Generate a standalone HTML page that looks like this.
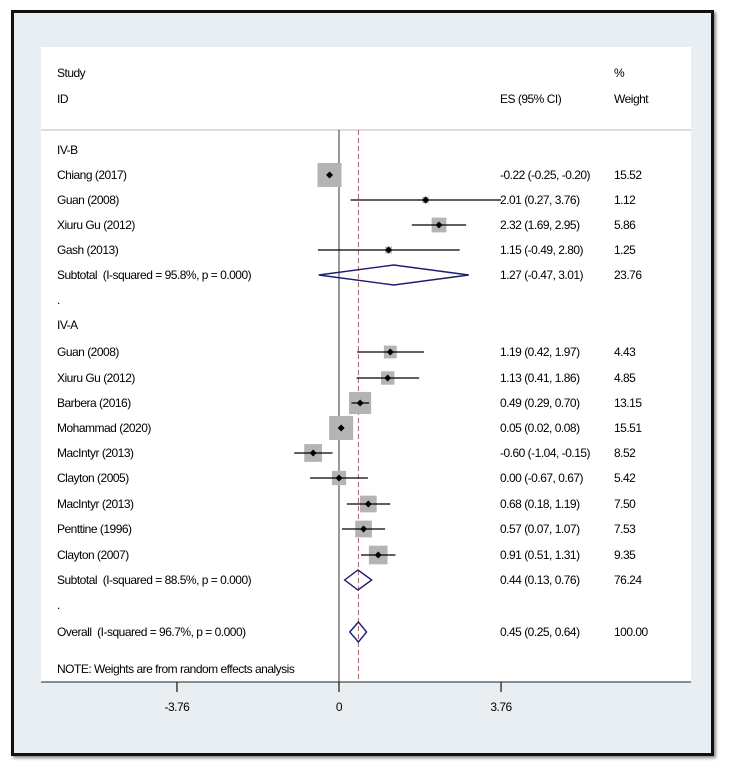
<!DOCTYPE html>
<html><head><meta charset="utf-8">
<style>
body{margin:0;width:730px;height:772px;background:#fff;overflow:hidden;font-family:"Liberation Sans",sans-serif}
#frame{position:absolute;left:11px;top:10px;width:697px;height:740px;border:3px solid #111;background:#e8eef2;box-shadow:2px 2px 3px #888}
svg{position:absolute;left:0;top:0}
text{font-family:"Liberation Sans",sans-serif;font-size:12px;fill:#000;letter-spacing:-0.5px;white-space:pre}
</style></head><body>
<div id="frame"></div>
<svg id="chart" width="730" height="772"></svg>
<script>
const labels=["Chiang (2017)","Guan (2008)","Xiuru Gu (2012)","Gash (2013)","Subtotal  (I-squared = 95.8%, p = 0.000)",
"Guan (2008)","Xiuru Gu (2012)","Barbera (2016)","Mohammad (2020)","MacIntyr (2013)","Clayton (2005)","MacIntyr (2013)","Penttine (1996)","Clayton (2007)","Subtotal  (I-squared = 88.5%, p = 0.000)","Overall  (I-squared = 96.7%, p = 0.000)"];
const es=[-0.22,2.01,2.32,1.15,1.27,1.19,1.13,0.49,0.05,-0.60,0.00,0.68,0.57,0.91,0.44,0.45];
const lo=[-0.25,0.27,1.69,-0.49,-0.47,0.42,0.41,0.29,0.02,-1.04,-0.67,0.18,0.07,0.51,0.13,0.25];
const hi=[-0.20,3.76,2.95,2.80,3.01,1.97,1.86,0.70,0.08,-0.15,0.67,1.19,1.07,1.31,0.76,0.64];
const weights=[15.52,1.12,5.86,1.25,23.76,4.43,4.85,13.15,15.51,8.52,5.42,7.50,7.53,9.35,76.24,100.00];
const kinds=["s","s","s","s","d","s","s","s","s","s","s","s","s","s","d","d"];
const rowY=[175,200,225,250,275,352,378,403,428,453,478,504,529,555,580,632];
const ticks=[-3.76,0,3.76];
const overall=0.45;
const NS="http://www.w3.org/2000/svg";
const svg=document.getElementById('chart');
const x=v=>339+v*43.1;
function el(t,a,txt){const e=document.createElementNS(NS,t);for(const k in a)e.setAttribute(k,a[k]);if(txt!==undefined)e.textContent=txt;svg.appendChild(e);return e;}
function fmt(v){return v.toFixed(2);}
let bg=el('rect',{x:41,y:47,width:650,height:635,fill:'#fff'});


let sep=el('line',{x1:41,x2:691,y1:130,y2:130,stroke:'#bbb','stroke-width':1});


const heads=[["Study",57,77],["ID",57,103],["ES (95% CI)",500,103],["%",614,77],["Weight",614,103],["IV-B",57,154],[".",57,304],["IV-A",57,329],[".",57,609],["NOTE: Weights are from random effects analysis",57,673]];
heads.forEach(h=>{let t=el('text',{x:h[1],y:h[2]},h[0]);});
let zl=el('line',{x1:x(0),x2:x(0),y1:130,y2:682,stroke:'#333','stroke-width':1});


let ol=el('line',{x1:x(overall),x2:x(overall),y1:130,y2:682,stroke:'#b0606a','stroke-width':1,'stroke-dasharray':'5,3'});


for(let i=0;i<labels.length;i++){
  const y=rowY[i];
  let t=el('text',{x:57,y:y+4},labels[i]);
  
  
  let e=el('text',{x:500,y:y+4},fmt(es[i])+" ("+fmt(lo[i])+", "+fmt(hi[i])+")");
  
  
  let w=el('text',{x:614,y:y+4},fmt(weights[i]));
  
  
  if(kinds[i]==='s'){
    const s=Math.sqrt(weights[i])*6.1;
    let b=el('rect',{x:x(es[i])-s/2,y:y-s/2,width:s,height:s,fill:'#b4b4b4'});
    
    
    let ci=el('line',{x1:x(lo[i]),x2:x(hi[i]),y1:y,y2:y,stroke:'#000','stroke-width':1.3});
    
    
    let p=el('path',{d:`M${x(es[i])-3.5},${y}L${x(es[i])},${y-3.5}L${x(es[i])+3.5},${y}L${x(es[i])},${y+3.5}Z`,fill:'#000'});
    
    
  } else {
    let d=el('path',{d:`M${x(lo[i])},${y}L${x(es[i])},${y-10}L${x(hi[i])},${y}L${x(es[i])},${y+10}Z`,fill:'none',stroke:'#1c1c70','stroke-width':1.4});
    
    
  }
}
let ax=el('line',{x1:41,x2:691,y1:682,y2:682,stroke:'#222','stroke-width':1});


ticks.forEach(v=>{
  let tk=el('line',{x1:x(v),x2:x(v),y1:682,y2:692,stroke:'#222','stroke-width':1.3});
  
  
  let tl=el('text',{x:x(v),y:711,'text-anchor':'middle'},v===0?"0":fmt(v));
  
  
});
</script>
</body></html>
